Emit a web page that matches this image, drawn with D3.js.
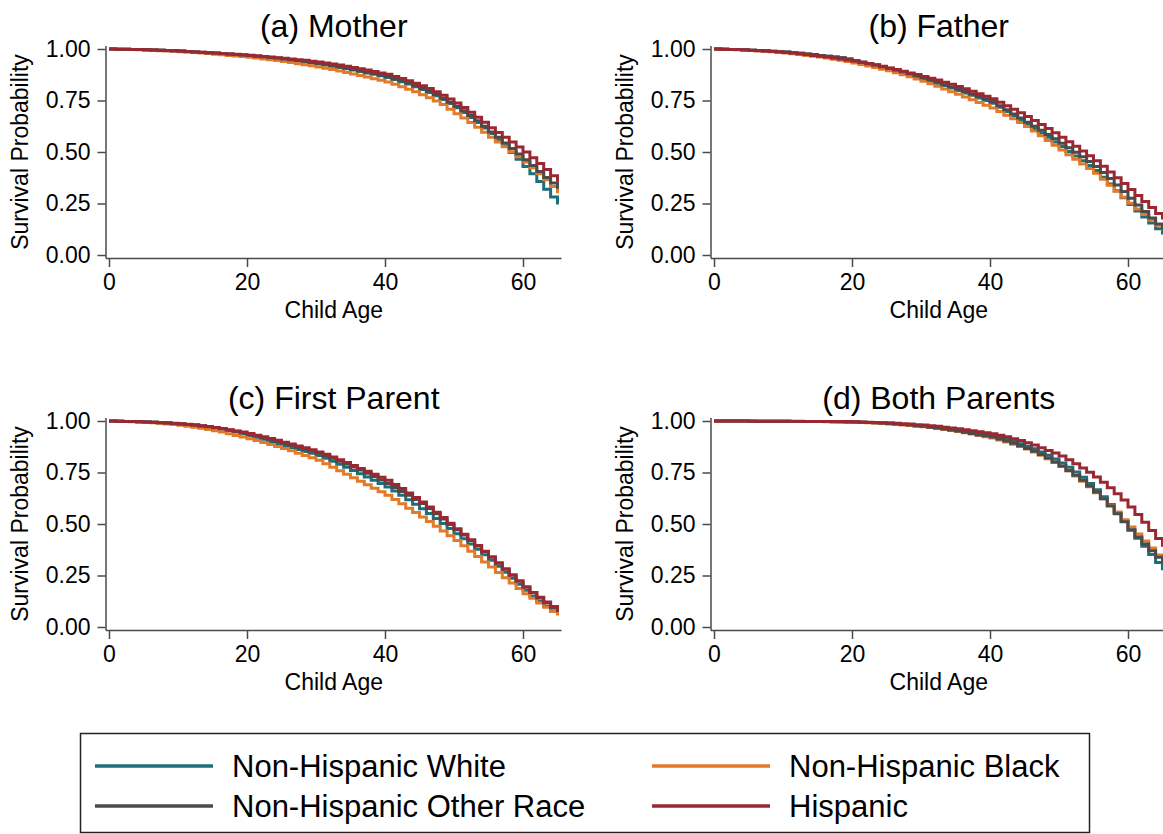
<!DOCTYPE html>
<html lang="en">
<head>
    <meta charset="UTF-8">
    <title>Parental Survival by Race</title>
</head>

<style>
    body {
        margin: 0;
        background: #ffffff;
    }
    .title {
        font: 32px 'Liberation Sans', Arial, sans-serif;
        fill: #000;
    }
    .axlabel {
        font: 23px 'Liberation Sans', Arial, sans-serif;
        fill: #000;
    }
    .axticks text {
        font: 23px 'Liberation Sans', Arial, sans-serif;
        fill: #000;
    }
    .axticks line {
        stroke: #4a4a4a;
        stroke-width: 1.5px;
    }
    .axline {
        stroke: #4a4a4a;
        stroke-width: 1.5px;
    }
    .legtext {
        font: 31px 'Liberation Sans', Arial, sans-serif;
        fill: #000;
    }
</style>
<body>
<div id="my_dataviz"></div>
</body>

<script src="https://cdn.jsdelivr.net/npm/d3@7"></script>

<script>

    // child age 0..65
    var ages = d3.range(0, 66);

    var groups = ["Non-Hispanic White", "Non-Hispanic Black", "Non-Hispanic Other Race", "Hispanic"];
    var colors = ["#1b6f79", "#e27a2a", "#4b4b4b", "#9a2832"];

    var xTicks = [0, 20, 40, 60];
    var yTicks = [0, 0.25, 0.5, 0.75, 1];

    var panelTitles = ["(a) Mother", "(b) Father", "(c) First Parent", "(d) Both Parents"];

    // (a) Mother
    var motherWhite = [1.000,.999,.999,.998,.997,.996,.995,.994,.992,.991,
        .989,.987,.985,.983,.981,.979,.977,.975,.972,.970,
        .967,.964,.961,.957,.954,.950,.946,.942,.937,.932,
        .927,.922,.916,.910,.904,.898,.891,.884,.877,.870,
        .862,.852,.841,.830,.817,.804,.789,.773,.755,.736,
        .715,.692,.668,.643,.617,.590,.560,.530,.498,.465,
        .430,.394,.357,.319,.282,.245];
    var motherBlack = [1.000,.999,.998,.997,.996,.995,.994,.992,.991,.989,
        .987,.985,.983,.980,.978,.975,.972,.969,.966,.963,
        .960,.956,.952,.948,.944,.939,.934,.929,.924,.919,
        .913,.907,.900,.893,.886,.879,.871,.864,.856,.848,
        .840,.829,.817,.805,.792,.778,.763,.747,.730,.708,
        .686,.665,.643,.620,.596,.572,.548,.525,.501,.477,
        .452,.424,.395,.365,.333,.300];
    var motherOther = [1.000,.999,.999,.998,.997,.996,.995,.994,.993,.991,
        .990,.988,.986,.984,.982,.980,.978,.976,.973,.971,
        .968,.965,.962,.959,.956,.952,.948,.944,.940,.935,
        .930,.925,.920,.914,.908,.902,.895,.888,.881,.874,
        .866,.856,.846,.835,.823,.810,.795,.779,.761,.742,
        .722,.700,.677,.652,.625,.597,.571,.544,.517,.490,
        .462,.434,.405,.376,.349,.322];
    var motherHisp = [1.000,.999,.999,.998,.997,.996,.995,.994,.993,.992,
        .990,.988,.986,.984,.982,.980,.978,.976,.974,.972,
        .970,.967,.964,.961,.958,.955,.952,.948,.945,.941,
        .937,.932,.927,.922,.916,.910,.904,.898,.891,.884,
        .877,.867,.857,.846,.834,.822,.808,.792,.775,.757,
        .738,.716,.693,.669,.644,.618,.595,.572,.548,.524,
        .500,.472,.444,.415,.385,.355];

    // (b) Father
    var fatherWhite = [1.000,.999,.998,.997,.996,.994,.993,.991,.989,.987,
        .985,.982,.979,.976,.973,.969,.965,.961,.957,.952,
        .943,.936,.929,.921,.913,.905,.896,.887,.877,.867,
        .856,.845,.834,.823,.811,.799,.787,.775,.762,.750,
        .737,.717,.697,.676,.655,.634,.613,.592,.571,.549,
        .527,.503,.480,.457,.434,.410,.378,.345,.312,.278,
        .245,.214,.184,.155,.127,.100];
    var fatherBlack = [1.000,.999,.998,.996,.995,.993,.991,.989,.987,.985,
        .980,.977,.973,.969,.965,.961,.956,.950,.945,.939,
        .932,.925,.918,.910,.902,.894,.885,.875,.865,.854,
        .843,.831,.819,.806,.793,.780,.767,.754,.740,.727,
        .713,.696,.679,.661,.643,.624,.602,.579,.556,.533,
        .510,.487,.465,.442,.420,.397,.368,.339,.309,.280,
        .251,.223,.196,.170,.145,.120];
    var fatherOther = [1.000,.999,.998,.997,.996,.994,.993,.991,.989,.987,
        .985,.982,.979,.976,.973,.969,.965,.961,.957,.952,
        .943,.936,.929,.922,.914,.906,.898,.889,.880,.870,
        .860,.849,.838,.827,.816,.805,.794,.782,.770,.758,
        .745,.725,.705,.685,.665,.645,.625,.605,.585,.564,
        .543,.521,.499,.477,.454,.430,.401,.371,.340,.308,
        .276,.243,.211,.180,.150,.122];
    var fatherHisp = [1.000,.999,.998,.997,.995,.994,.992,.990,.988,.986,
        .983,.980,.977,.973,.969,.965,.961,.956,.951,.947,
        .942,.936,.930,.923,.916,.908,.900,.892,.884,.876,
        .867,.858,.849,.839,.829,.818,.807,.795,.783,.771,
        .758,.742,.725,.708,.690,.672,.653,.634,.614,.593,
        .572,.550,.528,.505,.482,.458,.431,.403,.375,.347,
        .318,.289,.260,.230,.201,.172];

    // (c) First parent
    var firstWhite = [1.000,.999,.998,.997,.996,.995,.994,.992,.990,.988,
        .986,.983,.980,.976,.972,.967,.961,.954,.946,.938,
        .930,.921,.911,.901,.891,.881,.871,.862,.852,.843,
        .833,.819,.805,.790,.775,.760,.744,.728,.712,.696,
        .680,.660,.639,.618,.596,.574,.551,.527,.503,.478,
        .453,.428,.403,.377,.351,.324,.295,.266,.237,.207,
        .178,.151,.125,.100,.078,.057];
    var firstBlack = [1.000,.999,.998,.996,.995,.993,.991,.989,.986,.983,
        .979,.975,.970,.965,.959,.953,.946,.938,.930,.922,
        .914,.905,.896,.886,.876,.866,.855,.844,.833,.821,
        .809,.793,.776,.759,.742,.725,.708,.691,.674,.657,
        .639,.619,.598,.577,.556,.534,.512,.489,.466,.443,
        .420,.394,.368,.342,.316,.291,.265,.239,.213,.187,
        .162,.139,.117,.096,.076,.057];
    var firstOther = [1.000,.999,.998,.997,.996,.995,.994,.992,.990,.988,
        .986,.983,.980,.976,.972,.967,.962,.956,.950,.943,
        .935,.927,.918,.909,.900,.891,.882,.873,.864,.855,
        .845,.832,.819,.805,.791,.777,.762,.746,.730,.713,
        .696,.677,.658,.639,.619,.599,.575,.550,.524,.498,
        .472,.446,.420,.393,.366,.340,.311,.282,.253,.223,
        .194,.167,.141,.117,.094,.073];
    var firstHisp = [1.000,.999,.998,.997,.996,.995,.994,.993,.991,.989,
        .987,.984,.981,.977,.973,.968,.963,.957,.952,.946,
        .939,.931,.923,.915,.906,.897,.888,.879,.870,.860,
        .850,.838,.825,.812,.798,.784,.770,.756,.741,.727,
        .712,.692,.672,.651,.629,.607,.582,.557,.531,.504,
        .477,.450,.423,.396,.368,.340,.311,.282,.253,.223,
        .194,.168,.144,.121,.100,.080];

    // (d) Both parents
    var bothWhite = [1.000,1.000,1.000,1.000,1.000,.999,.999,.999,.999,.999,
        .999,.998,.998,.998,.997,.997,.997,.996,.996,.995,
        .995,.994,.993,.991,.990,.988,.986,.983,.980,.977,
        .974,.971,.967,.963,.959,.954,.949,.944,.939,.934,
        .928,.920,.911,.901,.890,.878,.865,.850,.834,.816,
        .796,.775,.752,.727,.697,.666,.632,.595,.555,.513,
        .470,.431,.392,.352,.313,.275];
    var bothBlack = [1.000,1.000,1.000,1.000,1.000,.999,.999,.999,.999,.999,
        .999,.998,.998,.998,.997,.997,.996,.996,.995,.995,
        .994,.993,.991,.990,.988,.986,.984,.981,.978,.975,
        .972,.968,.964,.959,.954,.949,.943,.937,.931,.924,
        .917,.908,.898,.887,.876,.864,.850,.834,.817,.799,
        .779,.757,.733,.708,.681,.652,.622,.591,.558,.521,
        .485,.452,.418,.384,.350,.318];
    var bothOther = [1.000,1.000,1.000,1.000,1.000,.999,.999,.999,.999,.999,
        .999,.998,.998,.998,.997,.997,.997,.996,.996,.995,
        .995,.994,.993,.991,.990,.988,.986,.983,.980,.977,
        .974,.970,.966,.961,.956,.951,.945,.939,.932,.929,
        .922,.913,.903,.892,.880,.867,.853,.837,.820,.801,
        .782,.760,.737,.712,.685,.655,.622,.587,.550,.511,
        .472,.437,.403,.370,.338,.307];
    var bothHisp = [1.000,1.000,1.000,1.000,1.000,1.000,.999,.999,.999,.999,
        .999,.999,.999,.998,.998,.998,.998,.997,.997,.997,
        .996,.995,.994,.993,.992,.991,.989,.987,.985,.982,
        .980,.977,.974,.970,.966,.962,.958,.953,.948,.943,
        .938,.931,.923,.914,.905,.895,.883,.870,.857,.845,
        .830,.812,.793,.772,.751,.728,.703,.676,.647,.616,
        .583,.546,.508,.469,.430,.390];

    var panelSeries = [
        [motherWhite, motherBlack, motherOther, motherHisp],
        [fatherWhite, fatherBlack, fatherOther, fatherHisp],
        [firstWhite, firstBlack, firstOther, firstHisp],
        [bothWhite, bothBlack, bothOther, bothHisp]
    ];

    // panel origins (position of the y axis line / top of the y scale)
    var panelPos = [
        {left: 106, top: 49},
        {left: 711, top: 49},
        {left: 106, top: 421},
        {left: 711, top: 421}
    ];

    var width = 1163, height = 834;
    var plotW = 451.5, plotH = 206;

    var svg = d3.select("#my_dataviz")
        .append("svg")
        .attr("width", width)
        .attr("height", height)
        .style("display", "block");

    panelPos.forEach(function(p, pi) {
        var g = svg.append("g");

        var x = d3.scaleLinear()
            .domain([0, 65])
            .range([p.left + 3, p.left + plotW]);
        var y = d3.scaleLinear()
            .domain([0, 1])
            .range([p.top + plotH, p.top]);

        var xAxisY = p.top + plotH + 3.5;

        // axis lines
        g.append("line")
            .attr("class", "axline")
            .attr("x1", p.left).attr("x2", p.left)
            .attr("y1", xAxisY).attr("y2", p.top - 3);
        g.append("line")
            .attr("class", "axline")
            .attr("x1", p.left).attr("x2", p.left + plotW + 4)
            .attr("y1", xAxisY).attr("y2", xAxisY);

        // Add Y axis
        g.append("g")
            .attr("class", "axticks")
            .attr("transform", "translate(" + (p.left - 0.5) + ",0)")
            .call(d3.axisLeft(y).tickValues(yTicks).tickFormat(d3.format(".2f"))
                .tickSize(8).tickPadding(7))
            .call(function(a) { a.select(".domain").remove(); });

        // Add X axis
        g.append("g")
            .attr("class", "axticks")
            .attr("transform", "translate(0," + (xAxisY + 0.5) + ")")
            .call(d3.axisBottom(x).tickValues(xTicks).tickFormat(d3.format("d"))
                .tickSize(8).tickPadding(7))
            .call(function(a) { a.select(".domain").remove(); });

        // panel title
        g.append("text")
            .attr("class", "title")
            .attr("x", p.left + (plotW + 4) / 2)
            .attr("y", p.top - 12.5)
            .style("text-anchor", "middle")
            .text(panelTitles[pi]);

        // x label
        g.append("text")
            .attr("class", "axlabel")
            .attr("x", p.left + (plotW + 4) / 2)
            .attr("y", p.top + 269)
            .style("text-anchor", "middle")
            .text("Child Age");

        // y label
        g.append("text")
            .attr("class", "axlabel")
            .attr("transform", "translate(" + (p.left - 86) + "," + (p.top + plotH / 2) + ") rotate(-90)")
            .attr("dy", "0.35em")
            .style("text-anchor", "middle")
            .text("Survival Probability");

        // step curves
        var line = d3.line()
            .curve(d3.curveStepAfter)
            .x(function(d, i) { return x(ages[i]); })
            .y(function(d) { return y(d); });

        g.selectAll(".curve")
            .data(panelSeries[pi])
            .enter()
            .append("path")
            .attr("class", "curve")
            .attr("d", line)
            .style("fill", "none")
            .style("stroke", function(d, i) { return colors[i]; })
            .style("stroke-width", "3px")
            .style("stroke-linejoin", "miter");
    });

    // Add legend
    var legend = svg.append("g").attr("class", "legend");

    legend.append("rect")
        .attr("x", 80.5)
        .attr("y", 733.5)
        .attr("width", 1009)
        .attr("height", 99)
        .style("fill", "none")
        .style("stroke", "#222")
        .style("stroke-width", "1.5px");

    var legX = [95, 652];
    var legY = [766, 806];

    legend.selectAll(".legline")
        .data(groups)
        .enter()
        .append("line")
        .attr("class", "legline")
        .attr("x1", function(d, i) { return legX[i % 2]; })
        .attr("x2", function(d, i) { return legX[i % 2] + 118; })
        .attr("y1", function(d, i) { return legY[Math.floor(i / 2)]; })
        .attr("y2", function(d, i) { return legY[Math.floor(i / 2)]; })
        .style("stroke", function(d, i) { return colors[i]; })
        .style("stroke-width", "3.5px");

    legend.selectAll(".legtext")
        .data(groups)
        .enter()
        .append("text")
        .attr("class", "legtext")
        .attr("x", function(d, i) { return legX[i % 2] + 137; })
        .attr("y", function(d, i) { return legY[Math.floor(i / 2)] + 11; })
        .text(function(d) { return d; });

</script>
</html>
